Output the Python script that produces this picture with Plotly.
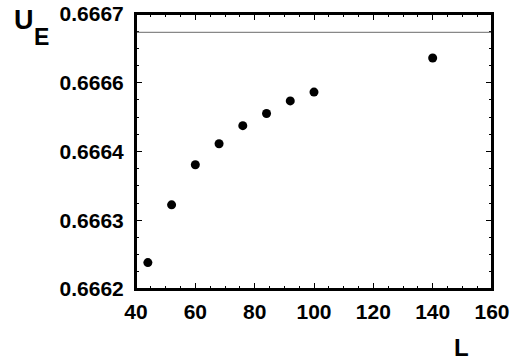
import plotly.graph_objects as go

L_vals = [44, 52, 60, 68, 76, 84, 92, 100, 140]
U_E = [0.666248, 0.666353, 0.666426, 0.666464, 0.666497, 0.666519, 0.666542, 0.666558, 0.666620]
limit_value = 2.0 / 3.0
x_ticks = [40, 60, 80, 100, 120, 140, 160]
y_tickvals = [0.6662, 0.666325, 0.66645, 0.666575, 0.6667]
y_ticktext = ["0.6662", "0.6663", "0.6664", "0.6666", "0.6667"]

W, H = 522, 363
ml, mr, mt, mb = 136, 30, 14, 74

fig = go.Figure()
fig.add_trace(go.Scatter(x=L_vals, y=U_E, mode="markers",
                         marker=dict(color="black", size=9), showlegend=False))
fig.add_shape(type="line", xref="x", yref="y", x0=40, x1=160,
              y0=limit_value, y1=limit_value,
              line=dict(color="#888888", width=1.2))
fig.add_shape(type="rect", xref="paper", yref="paper", x0=0, x1=1, y0=0, y1=1,
              line=dict(color="black", width=2), fillcolor="rgba(0,0,0,0)")

font_tick = dict(family="Liberation Sans", size=21, color="black", weight=700)
fig.update_xaxes(range=[40, 160], tickvals=x_ticks,
                 ticktext=[str(v) for v in x_ticks],
                 ticks="inside", ticklen=6,
                 tickwidth=1, tickcolor="black", mirror="allticks",
                 showline=True, linecolor="black", linewidth=2,
                 showgrid=False, zeroline=False, automargin=False,
                 tickfont=font_tick, ticklabelstandoff=3,
                 minor=dict(dtick=5, tick0=40, ticks="inside", ticklen=3,
                            tickcolor="black", showgrid=False))
fig.update_yaxes(range=[0.6662, 0.6667], tickvals=y_tickvals,
                 ticktext=y_ticktext,
                 ticks="inside", ticklen=6, tickwidth=1, tickcolor="black",
                 mirror="allticks", showline=True, linecolor="black", linewidth=2,
                 showgrid=False, zeroline=False, automargin=False, tickfont=font_tick,
                 ticklabelstandoff=6,
                 minor=dict(dtick=0.00003125, tick0=0.6662, ticks="inside",
                            ticklen=3, tickcolor="black", showgrid=False))

fig.add_annotation(text="U", xref="paper", yref="paper",
                   x=(24 - ml) / (W - ml - mr), y=(H - mb - 20) / (H - mt - mb),
                   showarrow=False, font=dict(family="Liberation Sans", size=27, color="black", weight=700),
                   xanchor="center", yanchor="middle")
fig.add_annotation(text="E", xref="paper", yref="paper",
                   x=(41 - ml) / (W - ml - mr), y=(H - mb - 37) / (H - mt - mb),
                   showarrow=False, font=dict(family="Liberation Sans", size=23, color="black", weight=700),
                   xanchor="center", yanchor="middle")
fig.add_annotation(text="L", xref="paper", yref="paper",
                   x=(461 - ml) / (W - ml - mr), y=(H - mb - 347) / (H - mt - mb),
                   showarrow=False, font=dict(family="Liberation Sans", size=24, color="black", weight=700),
                   xanchor="center", yanchor="middle")

fig.update_layout(width=W, height=H, margin=dict(l=ml, r=mr, t=mt, b=mb),
                  paper_bgcolor="white", plot_bgcolor="white",
                  font=dict(family="Liberation Sans", color="black"))
fig.write_html("out.html")
